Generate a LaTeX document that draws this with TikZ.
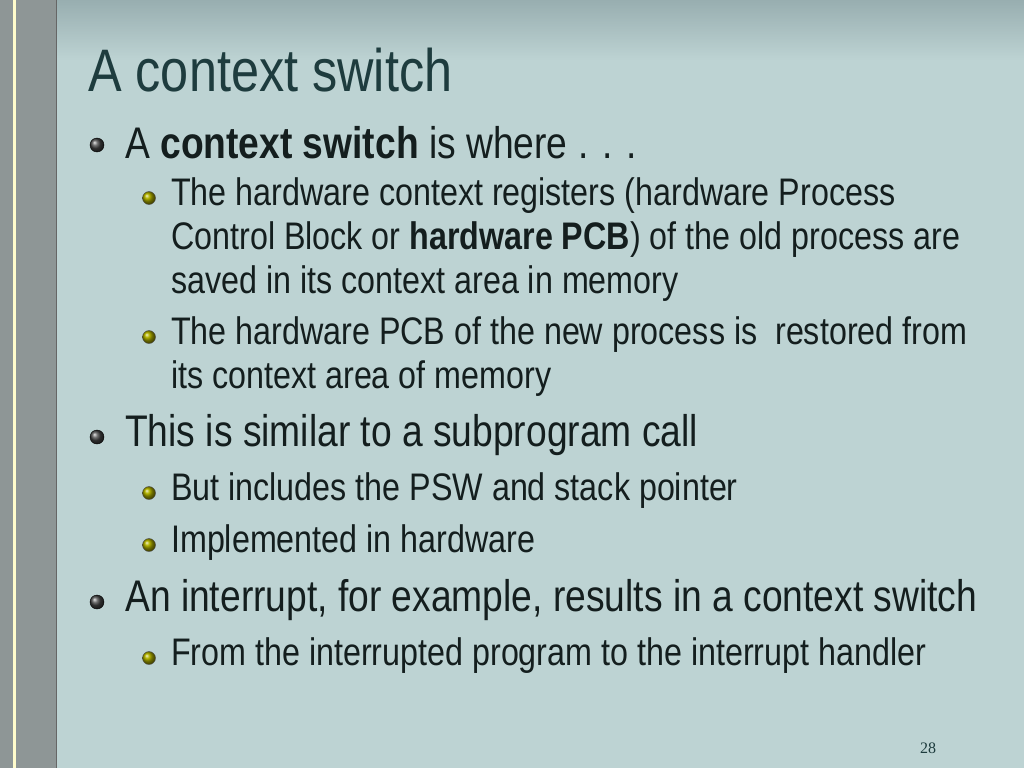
\documentclass[tikz,border=0pt]{standalone}
\usepackage{fontspec}
\setmainfont{Liberation Sans}[FakeStretch=0.84]
\newfontfamily\numfont{Liberation Serif}
\definecolor{slidebg}{HTML}{BDD3D3}
\definecolor{topbg}{HTML}{98AEB0}
\definecolor{titlecol}{HTML}{1E3C3E}
\definecolor{textcol}{HTML}{141E1E}
\definecolor{stripcol}{HTML}{8E9696}
\tikzset{
  bodytext/.style={anchor=west, text=textcol, inner sep=0pt, align=left},
  levelone/.style={bodytext, font=\fontsize{44.3}{44}\selectfont},
  leveltwo/.style={bodytext, font=\fontsize{38.4}{44}\selectfont},
  bulletone/.style={circle, minimum size=14pt, inner sep=0pt, draw=black, ball color=gray!50!black},
  bullettwo/.style={circle, minimum size=13pt, inner sep=0pt, draw=black!70, ball color=olive!80!yellow}
}
\begin{document}
\begin{tikzpicture}[x=1pt,y=-1pt]
\useasboundingbox (0,0) rectangle (1024,768);
% background
\fill[slidebg] (0,0) rectangle (1024,768);
\shade[top color=topbg, bottom color=slidebg] (0,0) rectangle (1024,60);
\fill[stripcol] (0,0) rectangle (56,768);
\draw[white!80!yellow, line width=3pt] (14,0) -- (14,768);
\draw[black!60, line width=1pt] (56,0) -- (56,768);
% title
\node[anchor=west, text=titlecol, inner sep=0pt, font=\fontsize{60}{60}\selectfont] (title) at (88,70) {A context switch};
% level one
\node[bulletone] (b1) at (97,145) {};
\node[levelone] (t1) at (125,143) {A \textbf{context switch} is where . . .};
\node[bulletone] (b2) at (97,437) {};
\node[levelone] (t2) at (125,435) {This is similar to a subprogram call};
\node[bulletone] (b3) at (97,602) {};
\node[levelone] (t3) at (125,600) {An interrupt, for example, results in a context switch};
% level two
\node[bullettwo] (c1) at (149,198) {};
\node[leveltwo, anchor=north west] (s1) at (171,177) {The hardware context registers (hardware Process\\Control Block or \textbf{hardware PCB}) of the old process are\\saved in its context area in memory};
\node[bullettwo] (c2) at (149,337) {};
\node[leveltwo, anchor=north west] (s2) at (171,316) {The hardware PCB of the new process is~ restored from\\its context area of memory};
\node[bullettwo] (c3) at (149,493) {};
\node[leveltwo] (s3) at (171,491) {But includes the PSW and stack pointer};
\node[bullettwo] (c4) at (149,545) {};
\node[leveltwo] (s4) at (171,543) {Implemented in hardware};
\node[bullettwo] (c5) at (149,658) {};
\node[leveltwo] (s5) at (171,656) {From the interrupted program to the interrupt handler};
% page number
\node[text=titlecol, font=\numfont\fontsize{16}{16}\selectfont] (pagenum) at (928,748) {28};
\end{tikzpicture}
\end{document}
